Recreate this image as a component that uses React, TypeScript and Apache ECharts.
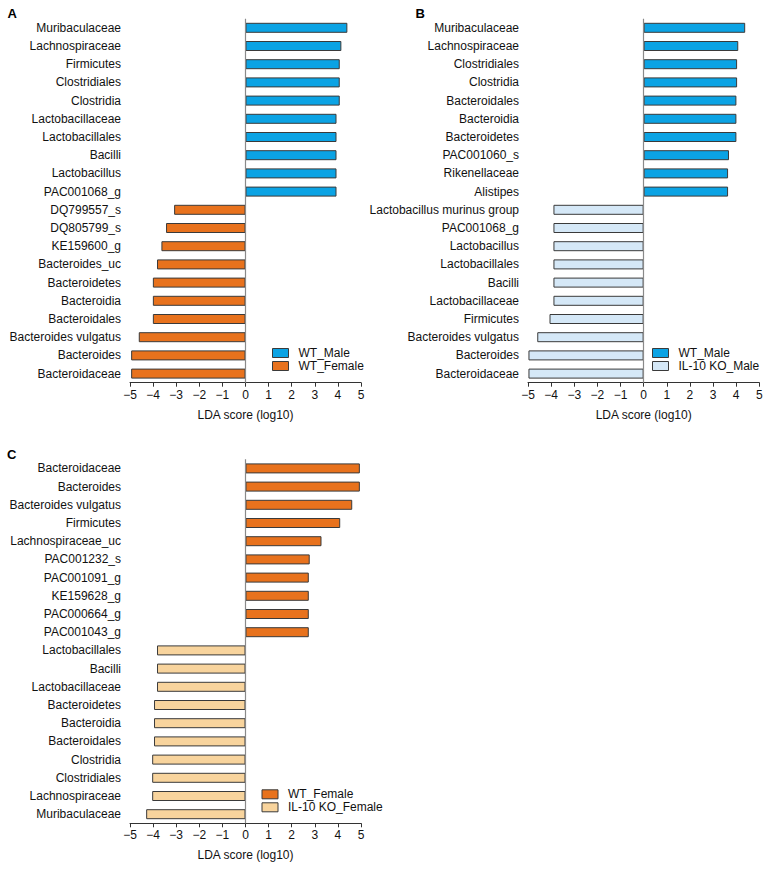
import React, { useEffect, useRef } from "react";
import * as echarts from "echarts";

const catsA = ["Muribaculaceae", "Lachnospiraceae", "Firmicutes", "Clostridiales", "Clostridia", "Lactobacillaceae", "Lactobacillales", "Bacilli", "Lactobacillus", "PAC001068_g", "DQ799557_s", "DQ805799_s", "KE159600_g", "Bacteroides_uc", "Bacteroidetes", "Bacteroidia", "Bacteroidales", "Bacteroides vulgatus", "Bacteroides", "Bacteroidaceae"];
const valsA = [4.41, 4.15, 4.08, 4.08, 4.08, 3.94, 3.94, 3.94, 3.94, 3.94, -3.09, -3.44, -3.64, -3.83, -4.01, -4.01, -4.01, -4.62, -4.95, -4.95];

const catsB = ["Muribaculaceae", "Lachnospiraceae", "Clostridiales", "Clostridia", "Bacteroidales", "Bacteroidia", "Bacteroidetes", "PAC001060_s", "Rikenellaceae", "Alistipes", "Lactobacillus murinus group", "PAC001068_g", "Lactobacillus", "Lactobacillales", "Bacilli", "Lactobacillaceae", "Firmicutes", "Bacteroides vulgatus", "Bacteroides", "Bacteroidaceae"];
const valsB = [4.39, 4.09, 4.04, 4.04, 4.01, 4.01, 4.01, 3.69, 3.65, 3.65, -3.9, -3.9, -3.9, -3.9, -3.9, -3.9, -4.07, -4.6, -4.98, -4.98];

const catsC = ["Bacteroidaceae", "Bacteroides", "Bacteroides vulgatus", "Firmicutes", "Lachnospiraceae_uc", "PAC001232_s", "PAC001091_g", "KE159628_g", "PAC000664_g", "PAC001043_g", "Lactobacillales", "Bacilli", "Lactobacillaceae", "Bacteroidetes", "Bacteroidia", "Bacteroidales", "Clostridia", "Clostridiales", "Lachnospiraceae", "Muribaculaceae"];
const valsC = [4.95, 4.95, 4.62, 4.1, 3.29, 2.78, 2.74, 2.74, 2.74, 2.74, -3.83, -3.83, -3.83, -3.96, -3.96, -3.96, -4.04, -4.04, -4.04, -4.3];

const groupsA = ["WT_Male", "WT_Female"];
const groupsB = ["WT_Male", "IL-10 KO_Male"];
const groupsC = ["WT_Female", "IL-10 KO_Female"];
const panelLetters = ["A", "B", "C"];
const axisTitle = "LDA score (log10)";

const FONT = "'Liberation Sans', Arial, Helvetica, sans-serif";
const COLORS: Record<string, string> = {
  "WT_Male": "#0ba3e4",
  "WT_Female": "#e8721d",
  "IL-10 KO_Male": "#d5e8f7",
  "IL-10 KO_Female": "#f8d49d",
};
const BORDER = "#3a3a3a";

export default function App() {
  const ref = useRef<HTMLDivElement>(null);
  useEffect(() => {
    if (!ref.current) return;
    const chart = echarts.init(ref.current, undefined, { renderer: "svg" });

    const panels = [
      { cats: catsA, vals: valsA, groups: groupsA, grid: { left: 130, top: 18.7, width: 231, height: 364 }, legend: { left: 272, top: 346.5 } },
      { cats: catsB, vals: valsB, groups: groupsB, grid: { left: 528, top: 18.7, width: 231.3, height: 364 }, legend: { left: 652, top: 346.5 } },
      { cats: catsC, vals: valsC, groups: groupsC, grid: { left: 130, top: 459.3, width: 231, height: 364 }, legend: { left: 261.5, top: 787.8 } },
    ];

    const grids: any[] = [];
    const xAxes: any[] = [];
    const yAxes: any[] = [];
    const series: any[] = [];
    const legends: any[] = [];

    panels.forEach((p, i) => {
      grids.push({ ...p.grid, containLabel: false });
      xAxes.push({
        type: "value",
        gridIndex: i,
        min: -5,
        max: 5,
        interval: 1,
        name: axisTitle,
        nameLocation: "middle",
        nameGap: 26,
        nameTextStyle: { fontFamily: FONT, fontSize: 12, color: "#111" },
        axisLine: { show: true, onZero: false, lineStyle: { color: "#333", width: 1 } },
        axisTick: { show: true, length: 4, lineStyle: { color: "#333" } },
        splitLine: { show: false },
        axisLabel: {
          margin: 6,
          fontFamily: FONT,
          fontSize: 12,
          color: "#111",
          formatter: (v: number) => (v < 0 ? "\u2212" + Math.abs(v) : String(v)),
        },
      });
      yAxes.push({
        type: "category",
        gridIndex: i,
        inverse: true,
        data: p.cats,
        axisLine: { show: false },
        axisTick: { show: false },
        axisLabel: { margin: 9, fontFamily: FONT, fontSize: 12, color: "#111" },
      });
      const [pos, neg] = p.groups;
      series.push({
        type: "bar",
        name: pos,
        xAxisIndex: i,
        yAxisIndex: i,
        barWidth: 10,
        barGap: "-100%",
        data: p.vals.map((v) => (v > 0 ? v : "-")),
        itemStyle: { color: COLORS[pos], borderColor: BORDER, borderWidth: 1 },
        markLine: {
          silent: true,
          symbol: "none",
          label: { show: false },
          lineStyle: { color: "#8a8a8a", width: 1.2, type: "solid" },
          data: [{ xAxis: 0 }],
        },
      });
      series.push({
        type: "bar",
        name: neg,
        xAxisIndex: i,
        yAxisIndex: i,
        barWidth: 10,
        barGap: "-100%",
        data: p.vals.map((v) => (v < 0 ? v : "-")),
        itemStyle: { color: COLORS[neg], borderColor: BORDER, borderWidth: 1 },
      });
      legends.push({
        orient: "vertical",
        left: p.legend.left,
        top: p.legend.top,
        itemWidth: 16,
        itemHeight: 9,
        itemGap: 0,
        selectedMode: false,
        padding: 0,
        textStyle: { fontFamily: FONT, fontSize: 12, lineHeight: 13, color: "#111", padding: [0, 0, 0, 5] },
        data: p.groups.map((g) => ({
          name: g,
          icon: "rect",
          itemStyle: { color: COLORS[g], borderColor: BORDER, borderWidth: 1 },
        })),
      });
    });

    const letterPos = [
      { x: 7.5, y: 7 },
      { x: 415.5, y: 7 },
      { x: 7, y: 447.5 },
    ];

    chart.setOption({
      animation: false,
      backgroundColor: "#ffffff",
      grid: grids,
      xAxis: xAxes,
      yAxis: yAxes,
      series,
      legend: legends,
      graphic: panelLetters.map((t, i) => ({
        type: "text",
        left: letterPos[i].x,
        top: letterPos[i].y,
        style: { text: t, fontFamily: FONT, fontSize: 13, fontWeight: "bold", fill: "#000" },
      })),
    });

    return () => chart.dispose();
  }, []);

  return (
    <div
      ref={ref}
      style={{ position: "absolute", left: 0, top: 0, width: 769, height: 870 }}
    />
  );
}
